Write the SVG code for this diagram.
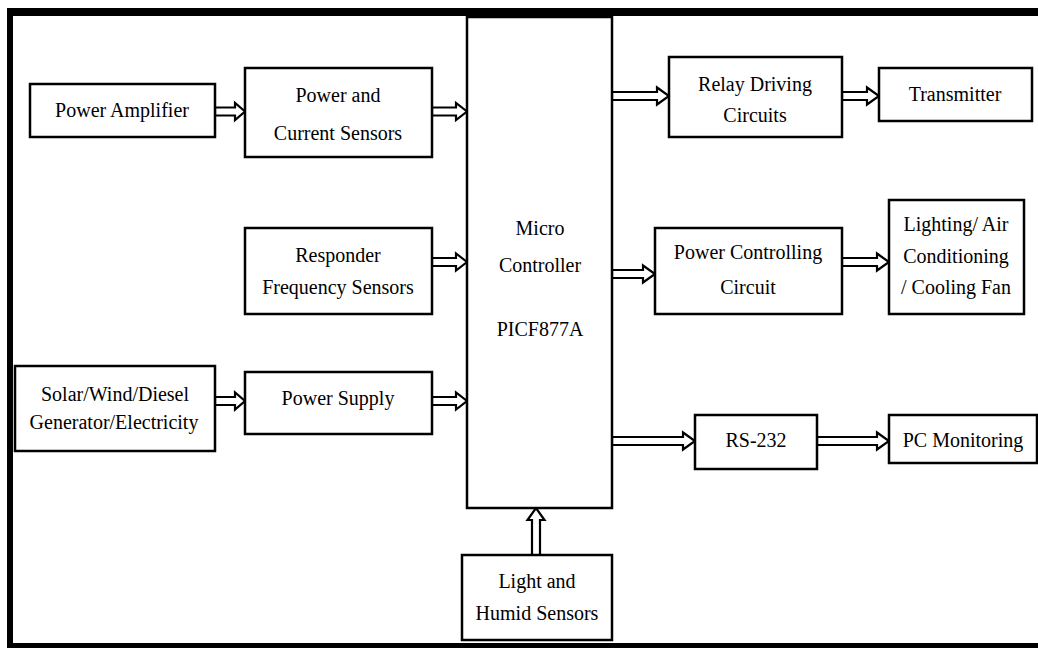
<svg xmlns="http://www.w3.org/2000/svg" width="1038" height="648" viewBox="0 0 1038 648">
<style>
.box{fill:#fff;stroke:#000;stroke-width:2.5}
.t{font-family:"Liberation Serif","Times New Roman",serif;font-size:20px;fill:#000;text-anchor:middle}
.arr{fill:#fff;stroke:#000;stroke-width:2.2;stroke-linejoin:miter}
.frame{fill:none;stroke:#000}
</style>
<rect x="0" y="0" width="1038" height="648" fill="#fff"/>
<g id="frame">
<line class="frame" x1="7" y1="12" x2="1038" y2="12" stroke-width="8"/>
<line class="frame" x1="10" y1="8" x2="10" y2="648" stroke-width="6"/>
<line class="frame" x1="7" y1="645.5" x2="1038" y2="645.5" stroke-width="5"/>
</g>
<g id="connectors">
<path class="arr" d="M215,107.5 L235,107.5 L235,103 L245,111.5 L235,120 L235,115.5 L215,115.5 Z"/>
<path class="arr" d="M432,107.5 L456,107.5 L456,103 L467,111.5 L456,120 L456,115.5 L432,115.5 Z"/>
<path class="arr" d="M432,258 L456,258 L456,253.5 L467,262 L456,270.5 L456,266 L432,266 Z"/>
<path class="arr" d="M215,397 L235,397 L235,392.5 L245,401 L235,409.5 L235,405 L215,405 Z"/>
<path class="arr" d="M432,397 L456,397 L456,392.5 L467,401 L456,409.5 L456,405 L432,405 Z"/>
<path class="arr" d="M612,92 L657,92 L657,87.5 L669,96 L657,104.5 L657,100 L612,100 Z"/>
<path class="arr" d="M842,92 L867,92 L867,87.5 L879,96 L867,104.5 L867,100 L842,100 Z"/>
<path class="arr" d="M612,270 L643,270 L643,265.5 L655,274 L643,282.5 L643,278 L612,278 Z"/>
<path class="arr" d="M842,258 L877,258 L877,253.5 L889,262 L877,270.5 L877,266 L842,266 Z"/>
<path class="arr" d="M612,437 L683,437 L683,432.5 L695,441 L683,449.5 L683,445 L612,445 Z"/>
<path class="arr" d="M817,437 L877,437 L877,432.5 L889,441 L877,449.5 L877,445 L817,445 Z"/>
<path class="arr" d="M532,555 L532,520 L527.5,520 L536,508 L544.5,520 L540,520 L540,555 Z"/>
</g>
<g id="mc">
<rect class="box" x="467" y="17" width="145" height="491"/>
<text class="t" x="540" y="235">Micro</text>
<text class="t" x="540" y="272">Controller</text>
<text class="t" x="540" y="336">PICF877A</text>
</g>
<g id="power-amplifier">
<rect class="box" x="30" y="84" width="185" height="53"/>
<text class="t" x="122" y="117">Power Amplifier</text>
</g>
<g id="power-current-sensors">
<rect class="box" x="245" y="68" width="187" height="89"/>
<text class="t" x="338" y="102">Power and</text>
<text class="t" x="338" y="140">Current Sensors</text>
</g>
<g id="responder">
<rect class="box" x="245" y="228" width="187" height="86"/>
<text class="t" x="338" y="262">Responder</text>
<text class="t" x="338" y="294">Frequency Sensors</text>
</g>
<g id="solar">
<rect class="box" x="15" y="366" width="200" height="85"/>
<text class="t" x="115" y="401">Solar/Wind/Diesel</text>
<text class="t" x="114" y="429">Generator/Electricity</text>
</g>
<g id="power-supply">
<rect class="box" x="245" y="372" width="187" height="62"/>
<text class="t" x="338" y="405">Power Supply</text>
</g>
<g id="light-humid">
<rect class="box" x="462" y="555" width="150" height="85"/>
<text class="t" x="537" y="588">Light and</text>
<text class="t" x="537" y="620">Humid Sensors</text>
</g>
<g id="relay">
<rect class="box" x="669" y="57" width="173" height="80"/>
<text class="t" x="755" y="91">Relay Driving</text>
<text class="t" x="755" y="122">Circuits</text>
</g>
<g id="transmitter">
<rect class="box" x="879" y="68" width="153" height="53"/>
<text class="t" x="955" y="101">Transmitter</text>
</g>
<g id="power-controlling">
<rect class="box" x="655" y="228" width="187" height="86"/>
<text class="t" x="748" y="259">Power Controlling</text>
<text class="t" x="748" y="294">Circuit</text>
</g>
<g id="lighting">
<rect class="box" x="889" y="200" width="135" height="114"/>
<text class="t" x="956" y="231">Lighting/ Air</text>
<text class="t" x="956" y="263">Conditioning</text>
<text class="t" x="956" y="294">/ Cooling Fan</text>
</g>
<g id="rs232">
<rect class="box" x="695" y="415" width="122" height="54"/>
<text class="t" x="756" y="447">RS-232</text>
</g>
<g id="pc">
<rect class="box" x="889" y="415" width="148" height="48"/>
<text class="t" x="963" y="447">PC Monitoring</text>
</g>
</svg>
